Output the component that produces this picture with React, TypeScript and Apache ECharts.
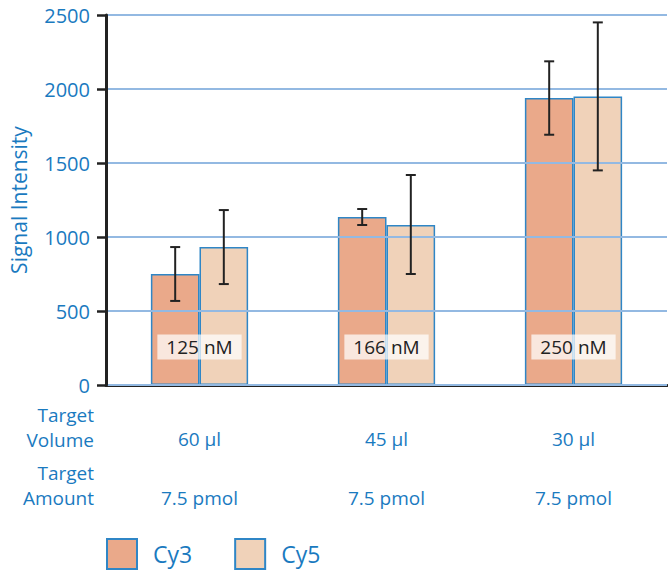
import React, { useEffect, useRef } from "react";
import * as echarts from "echarts";

const volumes = ["60 µl", "45 µl", "30 µl"];
const amounts = ["7.5 pmol", "7.5 pmol", "7.5 pmol"];
const concentrations = ["125 nM", "166 nM", "250 nM"];
const cy3 = [750, 1135, 1940];
const cy5 = [932, 1081, 1950];
const cy3Low = [568, 1081, 1691];
const cy3High = [932, 1189, 2187];
const cy5Low = [682, 750, 1450];
const cy5High = [1182, 1419, 2450];
const yTicks = { min: 0, max: 2500, interval: 500 };

const FONT = "'Open Sans', 'Noto Sans', sans-serif";
const BLUE = "#1a7abf";
const BORDER = "#2f86c6";
const GAP = 0.48;

function errorSeries(name: string, lows: number[], highs: number[], sign: number) {
  return {
    type: "custom",
    name: name + " error",
    xAxisIndex: 0,
    z: 6,
    data: lows.map((l, i) => [i, l, highs[i]]),
    encode: { x: 0, y: [1, 2] },
    renderItem: (params: any, api: any) => {
      const i = api.value(0);
      const lo = api.coord([i, api.value(1)]);
      const hi = api.coord([i, api.value(2)]);
      const band = api.size([1, 0])[0];
      const bw = (band * (1 - GAP)) / 2;
      const x = lo[0] + (sign * bw) / 2;
      const st = { stroke: "#222", lineWidth: 2 };
      return {
        type: "group",
        children: [
          { type: "line", shape: { x1: x, y1: lo[1], x2: x, y2: hi[1] }, style: st },
          { type: "line", shape: { x1: x - 5, y1: lo[1], x2: x + 5, y2: lo[1] }, style: st },
          { type: "line", shape: { x1: x - 5, y1: hi[1], x2: x + 5, y2: hi[1] }, style: st },
        ],
      };
    },
  };
}

export default function App() {
  const ref = useRef<HTMLDivElement>(null);
  useEffect(() => {
    if (!ref.current) return;
    const chart = echarts.init(ref.current, undefined, { renderer: "svg" });
    chart.setOption({
      animation: false,
      textStyle: { fontFamily: FONT },
      grid: {
        left: 106,
        right: 1,
        top: 15,
        bottom: 186,
        containLabel: false,
        outerBoundsMode: "none",
      },
      legend: {
        left: 106,
        top: 538,
        padding: 0,
        itemWidth: 30,
        itemHeight: 30,
        itemGap: 42,
        icon: "rect",
        data: ["Cy3", "Cy5"],
        textStyle: { color: BLUE, fontSize: 23, fontFamily: FONT, padding: [0, 0, 0, 11] },
      },
      xAxis: [
        {
          type: "category",
          data: volumes,
          position: "bottom",
          axisLine: { lineStyle: { color: "#222", width: 3 } },
          axisTick: { length: 10, lineStyle: { color: "#222", width: 2.5 } },
          axisLabel: { color: BLUE, fontSize: 19, fontFamily: FONT, margin: 44 },
          splitLine: { show: false },
        },
        {
          type: "category",
          data: amounts,
          position: "bottom",
          axisLine: { show: false },
          axisTick: { show: false },
          axisLabel: { color: BLUE, fontSize: 19, fontFamily: FONT, margin: 103 },
          splitLine: { show: false },
        },
      ],
      yAxis: {
        type: "value",
        min: yTicks.min,
        max: yTicks.max,
        interval: yTicks.interval,
        z: 4,
        name: "Signal Intensity",
        nameLocation: "middle",
        nameRotate: 90,
        nameGap: 77,
        nameTextStyle: { color: BLUE, fontSize: 21, fontFamily: FONT },
        axisLine: { show: true, lineStyle: { color: "#222", width: 3 } },
        axisTick: { show: true, length: 9, lineStyle: { color: "#222", width: 2.5 } },
        axisLabel: {
          color: BLUE,
          fontSize: 20,
          fontFamily: FONT,
          margin: 16,
          formatter: (v: number) => String(v),
        },
        splitLine: { show: true, lineStyle: { color: "#93b9e2", width: 2 } },
      },
      graphic: [
        {
          type: "text",
          x: 94,
          y: 402,
          style: {
            text: "Target\nVolume",
            fill: BLUE,
            font: `19px ${FONT}`,
            align: "right",
            lineHeight: 25,
          },
        },
        {
          type: "text",
          x: 94,
          y: 460,
          style: {
            text: "Target\nAmount",
            fill: BLUE,
            font: `19px ${FONT}`,
            align: "right",
            lineHeight: 25,
          },
        },
      ],
      series: [
        {
          type: "bar",
          name: "Cy3",
          data: cy3,
          xAxisIndex: 0,
          barGap: "0%",
          barCategoryGap: GAP * 100 + "%",
          z: 2,
          itemStyle: { color: "#eaa98a", borderColor: BORDER, borderWidth: 1.5 },
        },
        {
          type: "bar",
          name: "Cy5",
          data: cy5,
          xAxisIndex: 0,
          z: 2,
          itemStyle: { color: "#f0d2b9", borderColor: BORDER, borderWidth: 1.5 },
        },
        errorSeries("Cy3", cy3Low, cy3High, -1),
        errorSeries("Cy5", cy5Low, cy5High, 1),
        {
          type: "custom",
          name: "conc",
          xAxisIndex: 0,
          z: 7,
          data: concentrations.map((_, i) => [i, 0]),
          encode: { x: 0, y: 1 },
          renderItem: (params: any, api: any) => {
            const p = api.coord([api.value(0), api.value(1)]);
            return {
              type: "text",
              x: p[0],
              y: p[1] - 38,
              style: {
                text: concentrations[params.dataIndex],
                fill: "#222",
                font: `19px ${FONT}`,
                align: "center",
                verticalAlign: "middle",
                backgroundColor: "rgba(255,255,255,0.72)",
                padding: [3, 9, 3, 9],
              },
            };
          },
        },
      ],
    });
    return () => chart.dispose();
  }, []);
  return <div ref={ref} style={{ width: 668, height: 571, position: "absolute", left: 0, top: 0 }} />;
}
